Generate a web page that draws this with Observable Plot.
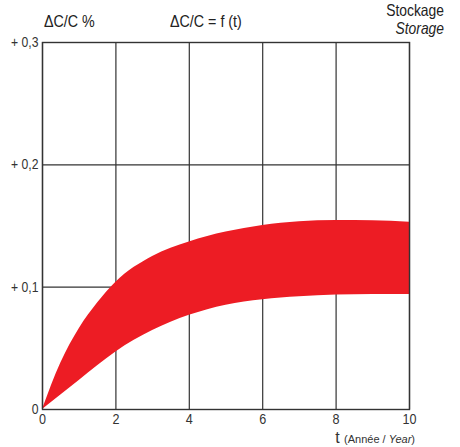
<!DOCTYPE html>
<html>
<head>
<meta charset="utf-8">
<script src="https://cdn.jsdelivr.net/npm/d3@7"></script>
<script src="https://cdn.jsdelivr.net/npm/@observablehq/plot@0.6"></script>
<style>
  html, body { margin: 0; padding: 0; background: #fff; }
  #chart { width: 460px; height: 447px; }
</style>
</head>
<body>
<div id="chart"></div>
<script>
// Data
const years = [0, 0.5, 1, 1.5, 2, 3, 4, 5, 6, 7, 8, 9, 10];
const upperValues = [0, 0.038, 0.066, 0.087, 0.104, 0.125, 0.137, 0.145, 0.1505, 0.1535, 0.1545, 0.1543, 0.153];
const lowerValues = [0, 0.0118, 0.0237, 0.0358, 0.047, 0.0645, 0.077, 0.0853, 0.0898, 0.0922, 0.0935, 0.094, 0.094];
const xTicks = [0, 2, 4, 6, 8, 10];
const yTicks = [0, 0.1, 0.2, 0.3];
const yTickLabels = ["0", "+ 0,1", "+ 0,2", "+ 0,3"];

const band = years.map((t, i) => ({t, lo: lowerValues[i], hi: upperValues[i]}));
const FONT = "'Liberation Sans', Arial, sans-serif";

const svg = Plot.plot({
  width: 460,
  height: 447,
  marginLeft: 42,
  marginRight: 51,
  marginTop: 42,
  marginBottom: 38,
  style: {fontFamily: FONT, fontSize: "14px", color: "#333", background: "#fff"},
  x: {domain: [0, 10]},
  y: {domain: [0, 0.3]},
  marks: [
    Plot.gridX(xTicks, {stroke: "#333", strokeOpacity: 1, strokeWidth: 1.2}),
    Plot.gridY(yTicks, {stroke: "#333", strokeOpacity: 1, strokeWidth: 1.2}),
    Plot.areaY(band, {x: "t", y1: "lo", y2: "hi", fill: "#ED1C24", curve: "monotone-x"}),
    Plot.frame({stroke: "#333", strokeWidth: 1.4}),
    Plot.axisX({ticks: xTicks, tickSize: 0, tickPadding: 4, fontSize: 15, fill: "#333", label: null}),
    Plot.axisY({ticks: yTicks, tickSize: 0, tickPadding: 4, fontSize: 14.5, fill: "#333", label: null,
      tickFormat: d => yTickLabels[yTicks.indexOf(d)]})
  ]
});
document.getElementById("chart").appendChild(svg);

const s = d3.select(svg);
const g = s.append("g").attr("font-family", FONT).attr("fill", "#222");
const titles = g.append("g").attr("class", "condense");
titles.append("text").attr("x", 44).attr("y", 27).attr("font-size", 17).attr("text-anchor", "start").text("ΔC/C %");
titles.append("text").attr("x", 170).attr("y", 27).attr("font-size", 17).attr("text-anchor", "start").text("ΔC/C = f (t)");
titles.append("text").attr("x", 444).attr("y", 16).attr("font-size", 16.5).attr("text-anchor", "end").text("Stockage");
titles.append("text").attr("x", 444).attr("y", 34).attr("font-size", 16.5).attr("font-style", "italic").attr("text-anchor", "end").text("Storage");

// narrow the letterforms of single-run texts to mimic the condensed typeface of the reference
s.selectAll("text").each(function() {
  const w = this.getComputedTextLength();
  if (w > 0) {
    this.setAttribute("textLength", (w * 0.84).toFixed(1));
    this.setAttribute("lengthAdjust", "spacingAndGlyphs");
  }
});

// x-axis label (mixed sizes/styles, not condensed)
const xl = g.append("text").attr("x", 415).attr("y", 443).attr("text-anchor", "end").attr("fill", "#333");
xl.append("tspan").attr("font-size", 16).text("t ");
xl.append("tspan").attr("font-size", 11).text("(Année / ");
xl.append("tspan").attr("font-size", 11).attr("font-style", "italic").text("Year");
xl.append("tspan").attr("font-size", 11).text(")");
</script>
</body>
</html>
